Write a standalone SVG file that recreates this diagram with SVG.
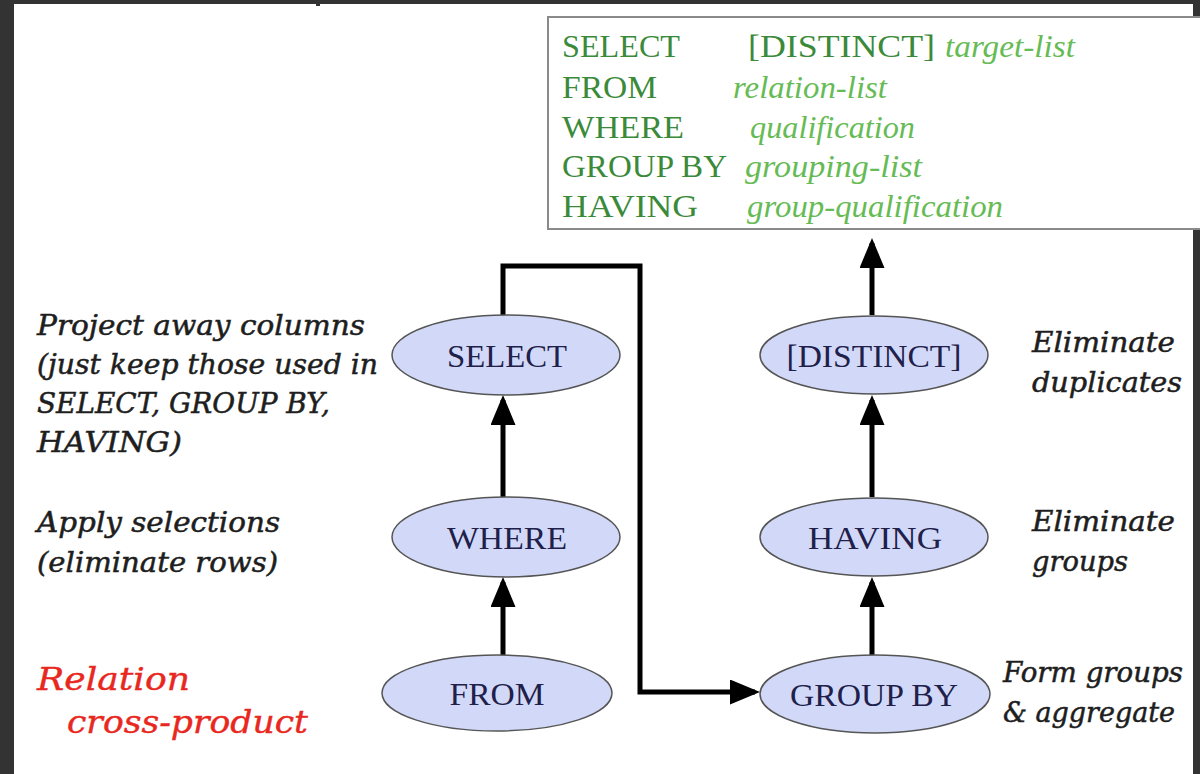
<svg xmlns="http://www.w3.org/2000/svg" width="1200" height="774" viewBox="0 0 1200 774">
<style>
.sq{font-family:"Liberation Serif","DejaVu Serif",serif;font-size:32px;fill:#3a8a3a}
.sqi{font-family:"Liberation Serif","DejaVu Serif",serif;font-size:31px;font-style:italic;fill:#66bb55}
.note{font-family:"DejaVu Serif","Liberation Serif",serif;font-size:27px;font-style:italic;fill:#1e1e1e;stroke:#1e1e1e;stroke-width:0.5}
.red{font-family:"DejaVu Serif","Liberation Serif",serif;font-size:31px;font-style:italic;fill:#e8281e;stroke:#e8281e;stroke-width:0.4}
.lab{font-family:"Liberation Serif","DejaVu Serif",serif;font-size:32px;fill:#20204a;text-anchor:middle}
.node ellipse{fill:#d2d9f8;stroke:#555;stroke-width:1.5}
.wire{fill:none;stroke:#000;stroke-width:5}
</style>
<defs>
<marker id="ah" markerWidth="6" markerHeight="5" refX="5" refY="2.5" orient="auto" markerUnits="strokeWidth">
<path d="M0,0 L6,2.5 L0,5 Z" fill="#000"/>
</marker>
</defs>
<rect x="0" y="0" width="1200" height="774" fill="#333"/>
<rect x="14" y="4" width="1179" height="770" fill="#fff"/>
<rect x="316" y="2" width="4" height="4" fill="#333"/>

<g id="sql-box">
<rect x="548" y="17" width="660" height="212" fill="#fff" stroke="#8a8a8a" stroke-width="2"/>
<text class="sq" x="562" y="57" textLength="118" lengthAdjust="spacingAndGlyphs">SELECT</text>
<text class="sq" x="748" y="57" textLength="187" lengthAdjust="spacingAndGlyphs">[DISTINCT]</text>
<text class="sqi" x="945" y="57" textLength="130" lengthAdjust="spacingAndGlyphs">target-list</text>
<text class="sq" x="562" y="98" textLength="95" lengthAdjust="spacingAndGlyphs">FROM</text>
<text class="sqi" x="733" y="98" textLength="154" lengthAdjust="spacingAndGlyphs">relation-list</text>
<text class="sq" x="562" y="138" textLength="122" lengthAdjust="spacingAndGlyphs">WHERE</text>
<text class="sqi" x="750" y="138" textLength="165" lengthAdjust="spacingAndGlyphs">qualification</text>
<text class="sq" x="562" y="177" textLength="165" lengthAdjust="spacingAndGlyphs">GROUP BY</text>
<text class="sqi" x="745" y="177" textLength="177" lengthAdjust="spacingAndGlyphs">grouping-list</text>
<text class="sq" x="562" y="217" textLength="136" lengthAdjust="spacingAndGlyphs">HAVING</text>
<text class="sqi" x="747" y="217" textLength="256" lengthAdjust="spacingAndGlyphs">group-qualification</text>
</g>

<g id="connectors">
<line class="wire" x1="503" y1="655" x2="503" y2="582" marker-end="url(#ah)"/>
<line class="wire" x1="503" y1="497" x2="503" y2="400" marker-end="url(#ah)"/>
<polyline class="wire" points="503,315 503,266 640,266 640,692 755,692" marker-end="url(#ah)"/>
<line class="wire" x1="872" y1="655" x2="872" y2="582" marker-end="url(#ah)"/>
<line class="wire" x1="872" y1="497" x2="872" y2="400" marker-end="url(#ah)"/>
<line class="wire" x1="872" y1="315" x2="872" y2="243" marker-end="url(#ah)"/>
</g>

<g id="node-select" class="node">
<ellipse cx="506" cy="355" rx="114" ry="40"/>
<text class="lab" x="507" y="367" textLength="120" lengthAdjust="spacingAndGlyphs">SELECT</text>
</g>
<g id="node-where" class="node">
<ellipse cx="506" cy="537" rx="114" ry="40"/>
<text class="lab" x="507" y="549" textLength="120" lengthAdjust="spacingAndGlyphs">WHERE</text>
</g>
<g id="node-from" class="node">
<ellipse cx="497" cy="693" rx="115" ry="38"/>
<text class="lab" x="497" y="705" textLength="95" lengthAdjust="spacingAndGlyphs">FROM</text>
</g>
<g id="node-distinct" class="node">
<ellipse cx="874" cy="355" rx="114" ry="39"/>
<text class="lab" x="874" y="367" textLength="175" lengthAdjust="spacingAndGlyphs">[DISTINCT]</text>
</g>
<g id="node-having" class="node">
<ellipse cx="874" cy="537" rx="114" ry="39"/>
<text class="lab" x="875" y="549" textLength="134" lengthAdjust="spacingAndGlyphs">HAVING</text>
</g>
<g id="node-groupby" class="node">
<ellipse cx="875" cy="694" rx="115" ry="39"/>
<text class="lab" x="874" y="706" textLength="168" lengthAdjust="spacingAndGlyphs">GROUP BY</text>
</g>

<g id="notes">
<text class="note" x="37" y="335" textLength="328" lengthAdjust="spacingAndGlyphs">Project away columns</text>
<text class="note" x="37" y="374" textLength="341" lengthAdjust="spacingAndGlyphs">(just keep those used in</text>
<text class="note" x="37" y="413" textLength="293" lengthAdjust="spacingAndGlyphs">SELECT, GROUP BY,</text>
<text class="note" x="37" y="452" textLength="145" lengthAdjust="spacingAndGlyphs">HAVING)</text>
<text class="note" x="37" y="532" textLength="243" lengthAdjust="spacingAndGlyphs">Apply selections</text>
<text class="note" x="37" y="572" textLength="241" lengthAdjust="spacingAndGlyphs">(eliminate rows)</text>
<text class="red" x="37" y="690" textLength="153" lengthAdjust="spacingAndGlyphs">Relation</text>
<text class="red" x="67" y="733" textLength="241" lengthAdjust="spacingAndGlyphs">cross-product</text>
<text class="note" x="1032" y="352" textLength="143" lengthAdjust="spacingAndGlyphs">Eliminate</text>
<text class="note" x="1032" y="392" textLength="150" lengthAdjust="spacingAndGlyphs">duplicates</text>
<text class="note" x="1032" y="531" textLength="143" lengthAdjust="spacingAndGlyphs">Eliminate</text>
<text class="note" x="1032" y="571" textLength="96" lengthAdjust="spacingAndGlyphs">groups</text>
<text class="note" x="1003" y="682" textLength="180" lengthAdjust="spacingAndGlyphs">Form groups</text>
<text class="note" x="1003" y="722" textLength="172" lengthAdjust="spacingAndGlyphs">&amp; aggregate</text>
</g>
</svg>
